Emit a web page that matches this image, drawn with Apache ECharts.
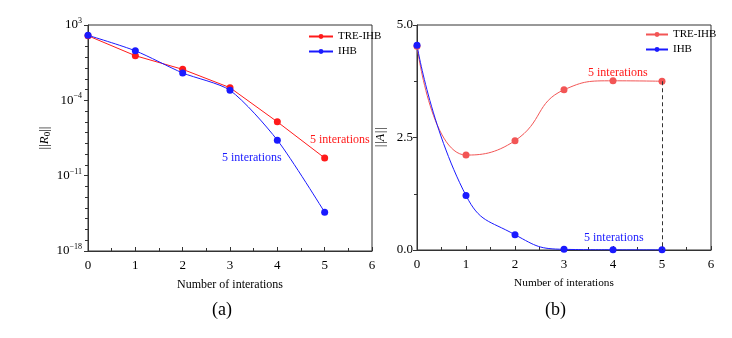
<!DOCTYPE html>
<html>
<head>
<meta charset="utf-8">
<script src="https://cdn.jsdelivr.net/npm/echarts@6/dist/echarts.min.js"></script>
<style>
  html, body { margin: 0; padding: 0; background: #fff; }
  #chart { width: 732px; height: 338px; }
</style>
</head>
<body>
<div id="chart"></div>
<script>
const iterations = [0, 1, 2, 3, 4, 5];
// panel (a): residual norm, log scale
const residualTre = [1.0e2, 1.4, 7.6e-2, 1.5e-3, 1.0e-6, 4.4e-10];
const residualIhb = [1.1e2, 4.0, 3.5e-2, 8.5e-4, 2.0e-8, 4.0e-15];
// panel (b): ||A||
const normTre = [4.53, 2.11, 2.43, 3.56, 3.76, 3.75];
const normIhb = [4.55, 1.21, 0.34, 0.015, 0.005, 0.003];
const logTicks = [3, -4, -11, -18];
const linTicks = ["0.0", "2.5", "5.0"];

const serif = "Liberation Serif";
const red = "#ff1a1a";
const redLight = "#f25555";
const blue = "#1a1aff";

const chart = echarts.init(document.getElementById("chart"));

function supLabel(v) {
  const e = Math.round(Math.log10(v));
  const s = e < 0 ? "\u2212" + Math.abs(e) : String(e);
  return "10{sup|" + s + "}";
}

const axisLineStyle = { color: "#333", width: 1 };

chart.setOption({
  animation: false,
  textStyle: { fontFamily: serif },
  grid: [
    { left: 88, top: 25, width: 284, height: 226, show: true, borderColor: "#333", borderWidth: 1, backgroundColor: "transparent" },
    { left: 417, top: 25, width: 294, height: 225, show: true, borderColor: "#333", borderWidth: 1, backgroundColor: "transparent" }
  ],
  legend: [
    {
      data: ["TRE-IHB", "IHB"],
      orient: "vertical",
      left: 303, top: 26,
      itemWidth: 24, itemHeight: 6, itemGap: 4,
      textStyle: { fontFamily: serif, fontSize: 11, color: "#000" }
    },
    {
      data: ["TRE-IHB ", "IHB "],
      orient: "vertical",
      left: 640, top: 24,
      itemWidth: 22, itemHeight: 6, itemGap: 4,
      textStyle: { fontFamily: serif, fontSize: 11, color: "#000" }
    }
  ],
  xAxis: [0, 1].map(i => ({
    gridIndex: i,
    type: "value",
    min: 0, max: 6, interval: 1,
    name: "Number of interations",
    nameLocation: "middle",
    nameGap: 28,
    nameTextStyle: { fontFamily: serif, fontSize: i === 0 ? 12 : 11.3, color: "#000" },
    axisLine: { onZero: false, lineStyle: axisLineStyle },
    axisTick: { inside: true, length: 4, lineStyle: axisLineStyle },
    minorTick: { show: true, splitNumber: 2, length: 3, lineStyle: axisLineStyle },
    axisLabel: { fontFamily: serif, fontSize: 13, color: "#000", margin: 8 },
    splitLine: { show: false }
  })),
  yAxis: [
    {
      gridIndex: 0,
      type: "log",
      logBase: 10,
      min: Math.pow(10, logTicks[3]),
      max: Math.pow(10, logTicks[0]),
      interval: 7,
      name: "{n|||}{i|R}{s|0}{n|||}",
      nameLocation: "middle",
      nameRotate: 90,
      nameGap: 36,
      nameTextStyle: {
        rich: {
          n: { fontFamily: serif, fontSize: 13, color: "#000" },
          i: { fontFamily: serif, fontSize: 13, fontStyle: "italic", color: "#000" },
          s: { fontFamily: serif, fontSize: 9, color: "#000", verticalAlign: "bottom", padding: [6, 0, 0, 0] }
        }
      },
      axisLine: { show: true, lineStyle: axisLineStyle },
      axisTick: { show: false },
      minorTick: { show: false },
      splitLine: { show: false },
      minorSplitLine: { show: false },
      axisLabel: {
        color: "#000",
        fontFamily: serif,
        fontSize: 13,
        margin: 6,
        formatter: supLabel,
        rich: { sup: { fontFamily: serif, fontSize: 8, verticalAlign: "top", padding: [0, 0, 8, 0], color: "#000" } }
      }
    },
    {
      gridIndex: 1,
      type: "value",
      min: 0, max: 5, interval: 2.5,
      name: "||A||",
      nameLocation: "middle",
      nameRotate: 90,
      nameGap: 30,
      nameTextStyle: { fontFamily: serif, fontSize: 12, color: "#000", fontStyle: "italic" },
      axisLine: { show: true, lineStyle: axisLineStyle },
      axisTick: { show: true, length: 4, lineStyle: axisLineStyle },
      minorTick: { show: true, splitNumber: 2, length: 3, lineStyle: axisLineStyle },
      splitLine: { show: false },
      axisLabel: {
        color: "#000", fontFamily: serif, fontSize: 13, margin: 4,
        formatter: v => linTicks[Math.round(v / 2.5)]
      }
    },
    {
      // decade ticks for the log axis of panel (a)
      gridIndex: 0,
      type: "value",
      position: "left",
      min: logTicks[3], max: logTicks[0], interval: 7,
      axisLine: { show: false, onZero: false },
      axisTick: { show: true, length: 4, lineStyle: axisLineStyle },
      minorTick: { show: true, splitNumber: 7, length: 3, lineStyle: axisLineStyle },
      axisLabel: { show: false },
      splitLine: { show: false }
    }
  ],
  series: [
    {
      name: "TRE-IHB", type: "line", xAxisIndex: 0, yAxisIndex: 0,
      data: iterations.map((x, i) => [x, residualTre[i]]),
      symbol: "circle", symbolSize: 7,
      itemStyle: { color: red }, lineStyle: { color: red, width: 1 }, z: 3
    },
    {
      name: "IHB", type: "line", xAxisIndex: 0, yAxisIndex: 0,
      data: iterations.map((x, i) => [x, residualIhb[i]]),
      smooth: 0.25,
      symbol: "circle", symbolSize: 7,
      itemStyle: { color: blue }, lineStyle: { color: blue, width: 1 }, z: 4
    },
    {
      name: "TRE-IHB ", type: "line", xAxisIndex: 1, yAxisIndex: 1,
      data: iterations.map((x, i) => [x, normTre[i]]),
      smooth: 0.5,
      symbol: "circle", symbolSize: 7,
      itemStyle: { color: redLight }, lineStyle: { color: redLight, width: 1 },
      markLine: {
        silent: true, symbol: "none", label: { show: false },
        lineStyle: { color: "#333", type: [4, 3], width: 1 },
        data: [[{ coord: [iterations[5], normTre[5]] }, { coord: [iterations[5], 0] }]]
      }
    },
    {
      name: "IHB ", type: "line", xAxisIndex: 1, yAxisIndex: 1,
      data: iterations.map((x, i) => [x, normIhb[i]]),
      smooth: 0.5,
      symbol: "circle", symbolSize: 7,
      itemStyle: { color: blue }, lineStyle: { color: blue, width: 1 }
    }
  ],
  graphic: [
    { type: "text", left: 310, top: 134, style: { text: "5 interations", fill: red, font: "12px 'Liberation Serif'" } },
    { type: "text", left: 222, top: 152, style: { text: "5 interations", fill: blue, font: "12px 'Liberation Serif'" } },
    { type: "text", left: 588, top: 67, style: { text: "5 interations", fill: red, font: "12px 'Liberation Serif'" } },
    { type: "text", left: 584, top: 232, style: { text: "5 interations", fill: blue, font: "12px 'Liberation Serif'" } },
    { type: "text", left: 212, top: 301, style: { text: "(a)", fill: "#000", font: "18px 'Liberation Serif'" } },
    { type: "text", left: 545, top: 301, style: { text: "(b)", fill: "#000", font: "18px 'Liberation Serif'" } }
  ]
});
</script>
</body>
</html>
